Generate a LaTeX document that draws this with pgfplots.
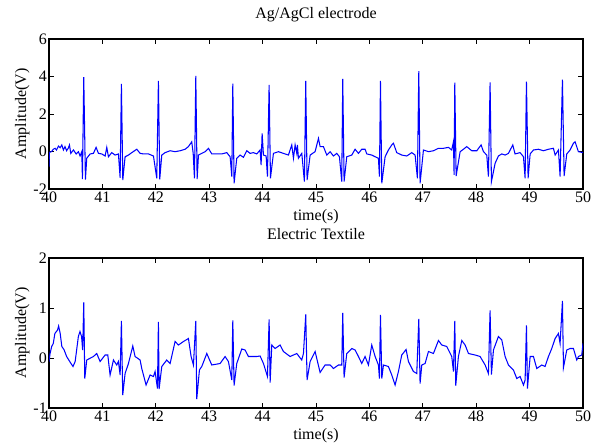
\documentclass[border=0pt]{standalone}
\usepackage{fontspec}
\setmainfont{Liberation Serif}
\usepackage{pgfplots}
\pgfplotsset{compat=1.18}

\pgfplotsset{
  ecg/.style={
    scale only axis, width=534pt, height=150pt,
    anchor=south west,
    xmin=40, xmax=50, xtick={40,41,...,50},
    axis line style={line width=1.1pt},
    tick style={line width=0.9pt, black},
    major tick length=5pt,
    /pgf/number format/assume math mode=true,
    xticklabel style={inner sep=3pt},
    yticklabel style={inner sep=2pt},
    xlabel={time(s)},
    xlabel style={at={(axis description cs:0.5,-0.185)}, anchor=center},
    ylabel={Amplitude(V)},
    ylabel style={at={(axis description cs:-0.05,0.5)}, anchor=center},
    title style={at={(axis description cs:0.5,1.12)}, anchor=center},
    every axis plot/.append style={line width=1.05pt, color=blue, no marks},
  }
}

\begin{document}
\fontsize{16}{19}\selectfont
\begin{tikzpicture}
\path[use as bounding box] (0,0) rectangle (594pt,442pt);

\begin{axis}[ecg, at={(49pt,253pt)},
  ymin=-2, ymax=6, ytick={-2,0,2,4,6},
  title={Ag/AgCl electrode}]
\addplot coordinates {
(40.000,-0.80) (40.008,-0.05) (40.05,0.00) (40.08,0.12) (40.114,0.17) (40.14,0.08)
(40.177,0.29) (40.208,0.20) (40.24,0.35) (40.27,0.08) (40.30,0.26) (40.33,0.04)
(40.36,0.17) (40.383,0.35) (40.408,-0.10) (40.458,0.08) (40.508,-0.13) (40.551,-0.01)
(40.582,-0.24) (40.614,-0.01) (40.626,-1.47) (40.651,3.97) (40.682,-1.50) (40.707,-0.36)
(40.770,-0.13) (40.832,-0.10) (40.882,0.22) (40.926,-0.10) (40.988,-0.13) (41.051,-0.24)
(41.082,0.22) (41.113,-0.28) (41.175,-0.06) (41.238,-0.19) (41.300,-0.13) (41.332,-1.40)
(41.356,3.60) (41.382,-1.52) (41.425,-0.28) (41.488,-0.19) (41.550,-0.06) (41.644,0.12)
(41.706,-0.10) (41.768,-0.13) (41.862,-0.13) (41.956,-0.24) (42.018,-1.43) (42.049,3.76)
(42.074,-1.48) (42.112,-0.19) (42.174,-0.06) (42.268,0.04) (42.361,-0.01) (42.455,0.04)
(42.549,0.12) (42.611,0.26) (42.673,0.52) (42.700,-0.10) (42.724,-1.43) (42.749,4.03)
(42.774,-1.47) (42.799,-0.19) (42.861,-0.10) (42.923,-0.01) (42.986,0.17) (43.048,-0.13)
(43.142,-0.13) (43.236,-0.13) (43.329,-0.06) (43.392,-0.28) (43.423,-1.34) (43.442,3.62)
(43.466,-1.70) (43.516,-0.36) (43.579,-0.19) (43.641,-0.31) (43.704,0.04) (43.766,-0.10)
(43.828,-0.06) (43.891,-0.13) (43.953,0.08) (43.972,-0.72) (43.991,0.97) (44.016,-0.19)
(44.066,-0.24) (44.091,-1.34) (44.122,3.55) (44.147,-1.43) (44.203,-0.10) (44.297,-0.01)
(44.390,-0.10) (44.484,-0.19) (44.546,0.35) (44.578,-0.36) (44.609,0.35) (44.640,-0.10)
(44.652,0.35) (44.671,-0.36) (44.734,-0.10) (44.783,-1.61) (44.808,3.76) (44.833,-1.52)
(44.890,-0.19) (44.983,-0.01) (45.046,0.70) (45.077,0.26) (45.139,0.26) (45.202,-0.19)
(45.264,-0.01) (45.327,-0.24) (45.389,-0.10) (45.439,-0.28) (45.482,-1.61) (45.501,3.87)
(45.526,-1.61) (45.576,-0.28) (45.670,-0.19) (45.732,0.12) (45.795,-0.10) (45.857,0.12)
(45.919,0.12) (45.951,-0.13) (46.044,-0.19) (46.107,-0.28) (46.169,-0.36) (46.188,-1.34)
(46.207,3.76) (46.232,-1.70) (46.294,-0.28) (46.356,0.08) (46.419,0.35) (46.450,0.44)
(46.512,-0.06) (46.606,-0.19) (46.700,-0.24) (46.793,-0.06) (46.856,-0.19) (46.899,-1.43)
(46.925,4.28) (46.949,-1.70) (47.012,0.08) (47.106,-0.01) (47.199,0.04) (47.293,0.17)
(47.386,0.17) (47.480,0.22) (47.542,0.08) (47.574,0.52) (47.586,-1.25) (47.599,3.67)
(47.624,-1.31) (47.699,-0.01) (47.761,0.12) (47.823,0.26) (47.917,0.04) (48.011,0.04)
(48.092,0.35) (48.136,-0.01) (48.198,-0.19) (48.229,-1.34) (48.260,3.69) (48.285,-1.61)
(48.354,-0.63) (48.416,-0.24) (48.479,-0.13) (48.541,-0.19) (48.604,-0.10) (48.685,0.35)
(48.728,-0.13) (48.822,-0.06) (48.885,-0.28) (48.916,-1.43) (48.941,3.72) (48.972,-1.43)
(49.010,-0.13) (49.072,0.08) (49.165,0.12) (49.259,0.04) (49.353,0.12) (49.446,0.17)
(49.478,-0.19) (49.540,0.08) (49.571,-1.34) (49.615,3.83) (49.646,-1.31) (49.696,-0.13)
(49.758,0.08) (49.821,0.44) (49.852,0.52) (49.914,-0.01) (50.000,-0.06)
};
\end{axis}

\begin{axis}[ecg, at={(49pt,34pt)},
  ymin=-1, ymax=2, ytick={-1,0,1,2},
  title={Electric Textile}]
\addplot coordinates {
(40.00,-0.07) (40.02,0.09) (40.05,0.23) (40.08,0.29) (40.11,0.49) (40.16,0.56)
(40.18,0.64) (40.21,0.49) (40.24,0.23) (40.28,0.17) (40.33,0.03) (40.40,-0.09)
(40.45,-0.17) (40.49,-0.07) (40.55,0.43) (40.58,0.53) (40.61,0.43) (40.63,0.16)
(40.651,1.11) (40.67,-0.41) (40.707,-0.04) (40.832,0.03) (40.894,0.09) (40.957,-0.07)
(41.051,0.06) (41.101,0.06) (41.144,-0.34) (41.207,-0.04) (41.269,-0.14) (41.300,-0.07)
(41.332,-0.34) (41.356,0.74) (41.381,-0.74) (41.425,-0.31) (41.488,-0.11) (41.569,0.24)
(41.612,0.03) (41.706,-0.04) (41.737,-0.21) (41.818,-0.54) (41.893,-0.34) (41.956,-0.37)
(41.987,-0.27) (42.031,-0.61) (42.049,0.72) (42.062,-0.62) (42.112,-0.17) (42.205,-0.04)
(42.268,-0.11) (42.361,0.33) (42.424,0.26) (42.518,0.33) (42.611,0.39) (42.661,0.03)
(42.705,-0.14) (42.749,0.74) (42.767,-0.82) (42.817,-0.24) (42.861,-0.17) (42.955,0.09)
(43.048,-0.14) (43.204,-0.11) (43.298,0.03) (43.360,-0.07) (43.423,-0.44) (43.442,0.75)
(43.466,-0.55) (43.516,-0.11) (43.610,0.18) (43.672,0.16) (43.735,0.03) (43.891,0.03)
(43.953,0.04) (44.016,-0.11) (44.091,-0.37) (44.122,0.77) (44.141,-0.49) (44.172,0.26)
(44.234,0.19) (44.328,0.26) (44.390,0.13) (44.515,0.03) (44.640,0.09) (44.733,-0.04)
(44.765,0.09) (44.808,0.87) (44.833,-0.44) (44.890,-0.07) (44.983,0.13) (45.077,-0.29)
(45.170,-0.14) (45.264,-0.14) (45.327,-0.21) (45.420,-0.14) (45.482,-0.14) (45.501,0.90)
(45.526,-0.39) (45.576,0.09) (45.670,0.19) (45.732,0.16) (45.795,0.03) (45.857,-0.11)
(45.919,0.03) (45.982,-0.14) (46.044,0.26) (46.107,0.03) (46.169,-0.14) (46.188,-0.41)
(46.207,0.86) (46.232,-0.41) (46.263,-0.14) (46.356,-0.17) (46.419,-0.34) (46.481,-0.54)
(46.544,-0.27) (46.606,0.06) (46.687,0.17) (46.731,-0.07) (46.825,-0.27) (46.887,-0.31)
(46.925,0.78) (46.949,-0.51) (46.981,-0.14) (47.043,-0.11) (47.106,0.13) (47.199,0.09)
(47.293,0.35) (47.355,0.26) (47.449,0.23) (47.542,0.03) (47.574,-0.27) (47.599,0.74)
(47.617,-0.55) (47.667,0.03) (47.730,0.35) (47.792,0.26) (47.855,0.09) (47.979,0.06)
(48.073,0.03) (48.167,-0.14) (48.229,-0.31) (48.260,0.95) (48.285,-0.33) (48.323,0.16)
(48.416,0.43) (48.479,0.36) (48.541,0.03) (48.604,-0.14) (48.697,-0.24) (48.760,-0.41)
(48.822,-0.37) (48.885,-0.54) (48.916,-0.44) (48.941,0.65) (48.960,-0.61) (49.010,0.03)
(49.072,0.03) (49.134,-0.21) (49.228,-0.14) (49.290,-0.17) (49.353,0.03) (49.415,0.19)
(49.478,0.39) (49.540,0.49) (49.571,0.29) (49.615,1.14) (49.634,-0.19) (49.696,0.16)
(49.758,0.19) (49.821,0.19) (49.883,-0.04) (49.915,0.03) (49.977,0.06) (50.000,0.29)
};
\end{axis}
\end{tikzpicture}
\end{document}
